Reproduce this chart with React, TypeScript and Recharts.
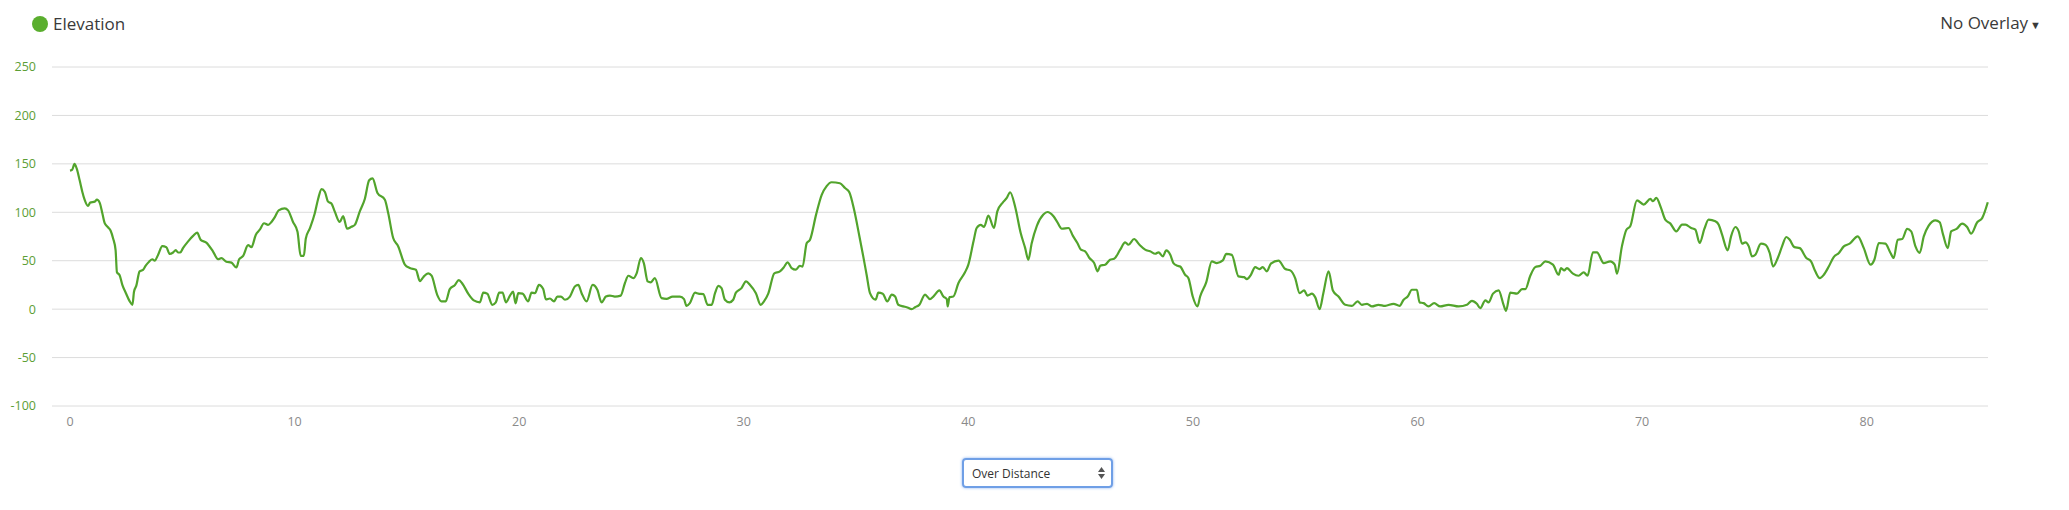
import { LineChart, Line, XAxis, YAxis, CartesianGrid } from 'recharts';

// distance along the route (km) and elevation (m)
const distanceKm = [
  0, 0.1, 0.2, 0.3, 0.43, 0.55, 0.65, 0.8, 0.9, 1.1, 1.2, 1.32, 1.44, 1.54, 1.69, 1.81, 1.92, 2.03, 2.09, 2.21,
  2.33, 2.48, 2.66, 2.78, 2.85, 2.95, 3.1, 3.25, 3.37, 3.52, 3.67, 3.77, 3.92, 4.11, 4.29, 4.44, 4.59, 4.71, 4.81, 4.91,
  5.03, 5.26, 5.48, 5.66, 5.82, 6.07, 6.37, 6.59, 6.74, 6.96, 7.19, 7.41, 7.53, 7.71, 7.93, 8.08, 8.27, 8.45, 8.64, 8.82,
  8.97, 9.12, 9.29, 9.56, 9.71, 9.93, 10.13, 10.27, 10.41, 10.5, 10.68, 10.9, 11.05, 11.2, 11.35, 11.49, 11.64, 11.79, 12.01, 12.16,
  12.34, 12.53, 12.68, 12.9, 13.13, 13.32, 13.47, 13.69, 14.02, 14.17, 14.39, 14.61, 14.91, 15.13, 15.4, 15.58, 15.73, 15.95, 16.1, 16.35,
  16.54, 16.73, 16.91, 17.14, 17.31, 17.48, 17.73, 17.98, 18.25, 18.4, 18.58, 18.8, 18.96, 19.11, 19.26, 19.41, 19.59, 19.73, 19.84, 19.96,
  20.15, 20.4, 20.55, 20.7, 20.88, 21.07, 21.19, 21.37, 21.55, 21.7, 21.86, 22.04, 22.26, 22.48, 22.63, 22.78, 23.0, 23.27, 23.48, 23.67,
  23.86, 24.04, 24.26, 24.52, 24.71, 24.86, 25.08, 25.23, 25.42, 25.55, 25.72, 25.85, 26.04, 26.34, 26.56, 26.83, 27.16, 27.34, 27.45, 27.6,
  27.83, 27.98, 28.2, 28.39, 28.57, 28.72, 28.87, 29.01, 29.16, 29.36, 29.53, 29.65, 29.9, 30.1, 30.28, 30.54, 30.75, 30.9, 31.09, 31.36,
  31.61, 31.79, 31.95, 32.13, 32.32, 32.5, 32.62, 32.8, 32.95, 33.22, 33.47, 33.69, 33.91, 34.28, 34.51, 34.7, 34.91, 35.15, 35.32, 35.47,
  35.62, 35.87, 35.99, 36.19, 36.39, 36.59, 36.74, 36.88, 37.11, 37.25, 37.48, 37.63, 37.82, 38.07, 38.29, 38.44, 38.71, 38.89, 39.04, 39.08,
  39.16, 39.33, 39.56, 39.85, 40.0, 40.23, 40.37, 40.55, 40.7, 40.89, 41.14, 41.29, 41.53, 41.71, 41.86, 42.08, 42.33, 42.53, 42.67, 42.82,
  43.05, 43.34, 43.52, 43.79, 43.94, 44.16, 44.46, 44.65, 44.86, 45.01, 45.2, 45.39, 45.6, 45.76, 45.87, 46.09, 46.31, 46.49, 46.76, 46.98,
  47.13, 47.38, 47.62, 47.87, 48.09, 48.32, 48.47, 48.66, 48.81, 48.99, 49.13, 49.31, 49.43, 49.65, 49.8, 49.99, 50.2, 50.32, 50.59, 50.84,
  51.06, 51.33, 51.48, 51.73, 52.03, 52.28, 52.4, 52.58, 52.77, 52.96, 53.11, 53.29, 53.47, 53.81, 54.11, 54.33, 54.55, 54.75, 54.95, 55.1,
  55.3, 55.44, 55.64, 55.81, 56.04, 56.23, 56.48, 56.78, 57.08, 57.33, 57.52, 57.75, 57.97, 58.26, 58.56, 58.93, 59.2, 59.38, 59.56, 59.75,
  59.97, 60.09, 60.27, 60.49, 60.74, 61.01, 61.38, 61.83, 62.2, 62.42, 62.64, 62.79, 63.02, 63.16, 63.36, 63.61, 63.83, 63.94, 64.13, 64.43,
  64.65, 64.8, 65.02, 65.24, 65.47, 65.69, 66.03, 66.28, 66.39, 66.53, 66.65, 66.92, 67.17, 67.4, 67.57, 67.81, 67.99, 68.29, 68.58, 68.78,
  68.88, 69.1, 69.3, 69.47, 69.77, 70.07, 70.37, 70.48, 70.63, 70.84, 71.03, 71.26, 71.52, 71.78, 71.93, 72.18, 72.37, 72.56, 72.77, 72.96,
  73.26, 73.41, 73.56, 73.81, 73.96, 74.15, 74.3, 74.45, 74.6, 74.75, 74.89, 75.04, 75.29, 75.49, 75.68, 75.83, 76.04, 76.23, 76.42, 76.57,
  76.78, 77.02, 77.31, 77.52, 77.71, 77.91, 78.09, 78.31, 78.53, 78.76, 78.98, 79.24, 79.6, 79.87, 80.17, 80.34, 80.54, 80.83, 81.06, 81.2,
  81.38, 81.58, 81.8, 81.98, 82.17, 82.36, 82.54, 82.76, 83.06, 83.25, 83.4, 83.61, 83.76, 84.0, 84.25, 84.47, 84.65, 84.92, 85.14, 85.39,
];

const elevationM = [
  143, 144, 150, 145, 133, 121, 113, 106.5, 110, 111, 113, 110, 99, 89, 84.5, 81, 73, 61, 38, 35,
  25, 17, 8, 4.5, 18, 24, 39, 40.5, 45, 49, 51.5, 50, 56, 65, 64, 57, 58.5, 61, 58.5, 58.5,
  63, 70, 75.6, 79, 71.5, 68.7, 59.5, 51.5, 52.6, 49, 48, 43, 51.5, 55, 66, 64, 76.6, 82, 88.7, 87,
  90, 95, 102, 104, 102, 90, 80, 55, 55, 73, 83.5, 99, 114, 124, 121, 111, 109, 100.7, 90, 96,
  83, 85, 87, 100.7, 114, 133, 135, 120, 113, 99, 73.4, 65, 46, 42.4, 40.7, 29, 33, 37, 34.5, 14.8,
  8, 8, 20.7, 25, 30, 26, 16, 9, 7, 17, 16, 4.5, 7, 17, 17, 7, 14, 18, 6, 16.5,
  16, 8, 17, 16.5, 25, 20.7, 10, 11, 8, 13, 13, 9.7, 13, 23.4, 25, 16.5, 8, 25, 20, 7,
  13, 14, 13, 14, 27, 34.5, 32, 37, 52.8, 47.6, 28.6, 27.6, 32, 11.4, 10.7, 13, 13, 10.3, 3.4, 6.2,
  17, 16, 15.5, 4.5, 4.5, 16.5, 24, 21.7, 9.7, 7, 9.7, 17, 21.7, 28.6, 25, 16.5, 4.5, 8, 16, 37,
  39, 43.4, 48.3, 42.4, 40.7, 44.8, 44, 68, 71.7, 97.6, 118, 127, 131, 130, 125, 120.7, 102.8, 75, 54.5, 35.5,
  16.5, 9.7, 17, 16, 8, 15, 13, 4.5, 2.8, 2, 0, 2, 4.5, 15, 10.3, 13, 19.3, 13, 10.3, 2.8,
  12.4, 13, 27, 38, 46, 70, 83.8, 87, 85, 96.6, 83.8, 101, 110, 114.8, 120.7, 106, 78.6, 63, 51, 68,
  86, 97.6, 100.3, 95.9, 90.7, 83, 83.8, 75.9, 68, 61.4, 59.7, 52.8, 47.6, 39, 44.8, 45.9, 51, 52, 61.4, 69,
  66.5, 72.4, 66.5, 61.4, 59.7, 57.2, 58.6, 54.5, 60.7, 56.2, 47.6, 44.8, 44, 35.5, 32, 13, 2.8, 13, 27.6, 49.3,
  47.6, 50.3, 57, 56, 33.8, 33, 31, 35.5, 43.4, 41.4, 43.4, 39, 47, 50, 41.4, 40, 32, 16.5, 19.3, 14,
  16, 12.4, 0, 17, 39, 19.3, 13, 4.5, 3.4, 8, 4.5, 5.5, 2.8, 4.5, 3.4, 5.5, 3.4, 9.7, 13, 20,
  20, 7, 6.2, 2.8, 6.2, 2.8, 4.5, 2.8, 4.5, 8.6, 5.5, 1, 9, 7, 16, 19.3, 4.5, -1.7, 17, 16,
  20.7, 20.7, 34.5, 43.4, 44.8, 49.3, 45.9, 35.5, 42.4, 40, 42.4, 36.6, 34.5, 38, 34.5, 58.6, 58.6, 47.6, 49.3, 45.9,
  36.6, 64.8, 82, 85.5, 112.4, 108, 113.8, 111.4, 114.8, 104.5, 92.4, 88.3, 80.3, 87.2, 87.2, 83.8, 82, 68.3, 82.8, 92.4,
  90.7, 87.2, 76.9, 60.7, 75.2, 84.8, 80.3, 67.6, 69, 64.8, 54.5, 56.2, 67.6, 66.6, 58, 44, 52.8, 64.8, 74.5, 71.7,
  64, 63, 52.8, 49.3, 39, 32, 35.5, 44, 53.8, 58, 64.8, 67.6, 75.2, 63, 45.9, 51, 68.3, 67.6, 58, 52.8,
  71.7, 72.4, 82.8, 80.3, 64.8, 58, 75.2, 86.2, 91.7, 89.7, 76.9, 63, 80.3, 82.8, 88.3, 84.8, 77.9, 89.7, 94, 110.3,
];

const xTicks = [0, 10, 20, 30, 40, 50, 60, 70, 80];
const yTicks = [-100, -50, 0, 50, 100, 150, 200, 250];

const data = distanceKm.map((km, i) => ({ km, elevation: elevationM[i] }));

const GREEN = '#52a42c';

export default function App() {
  return (
    <div
      style={{
        position: 'absolute',
        left: 0,
        top: 0,
        width: 2069,
        height: 510,
        background: '#fff',
        fontFamily: '"Open Sans", sans-serif',
      }}
    >
      {/* legend */}
      <div style={{ position: 'absolute', left: 32, top: 12, display: 'flex', alignItems: 'center' }}>
        <span
          style={{ width: 16, height: 16, borderRadius: '50%', background: '#5aae2e', display: 'inline-block' }}
        />
        <span style={{ marginLeft: 5, fontSize: 17, color: '#3a3a3a' }}>Elevation</span>
      </div>

      <div style={{ position: 'absolute', right: 28, top: 11, fontSize: 17, color: '#3a3a3a' }}>
        No Overlay<span style={{ fontSize: 11, marginLeft: 2 }}>▼</span>
      </div>

      <LineChart
        width={2069}
        height={510}
        data={data}
        margin={{ top: 67, right: 81, bottom: 74, left: 0 }}
      >
        <CartesianGrid vertical={false} stroke="#dcdcdc" />
        <XAxis
          dataKey="km"
          type="number"
          domain={[0, 85.4]}
          ticks={xTicks}
          padding={{ left: 18, right: 0 }}
          axisLine={false}
          tickLine={false}
          tickSize={0}
          tickMargin={11}
          height={30}
          tick={{ fill: '#8a8a8a', fontSize: 12.5 }}
        />
        <YAxis
          type="number"
          domain={[-100, 250]}
          ticks={yTicks}
          width={52}
          axisLine={false}
          tickLine={false}
          tickSize={0}
          tickMargin={16}
          tick={{ fill: '#5c9e35', fontSize: 12.5 }}
        />
        <Line
          type="monotone"
          dataKey="elevation"
          stroke={GREEN}
          strokeWidth={2.2}
          dot={false}
          isAnimationActive={false}
        />
      </LineChart>

      {/* distance / time selector */}
      <div
        style={{
          position: 'absolute',
          left: 962,
          top: 458,
          width: 151,
          height: 30,
          border: '2px solid #6f9fe6',
          borderRadius: 4,
          boxShadow: '0 0 3px #8db4f0',
          display: 'flex',
          alignItems: 'center',
          justifyContent: 'space-between',
          padding: '0 6px 0 8px',
          boxSizing: 'border-box',
          fontSize: 12,
          color: '#333',
        }}
      >
        <span>Over Distance</span>
        <svg width={7} height={12}>
          <polygon points="0,5 7,5 3.5,0" fill="#555" />
          <polygon points="0,7 7,7 3.5,12" fill="#555" />
        </svg>
      </div>
    </div>
  );
}
